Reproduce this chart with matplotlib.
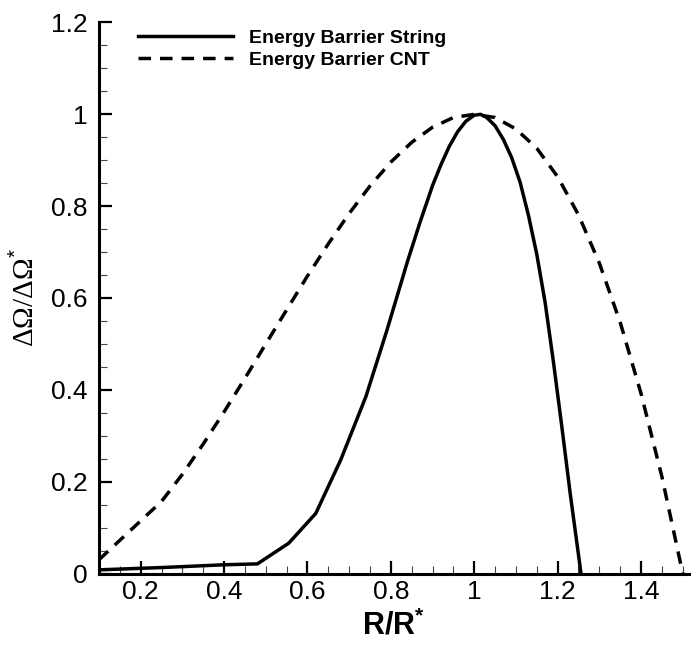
import matplotlib
matplotlib.use('Agg')
import matplotlib.pyplot as plt
from matplotlib.ticker import MultipleLocator

# ---- data ----
r_string = [0.10, 0.25, 0.40, 0.48, 0.555, 0.62, 0.68, 0.74, 0.79, 0.84, 0.87,
            0.90, 0.92, 0.94, 0.96, 0.98, 1.00, 1.015, 1.03, 1.05, 1.07, 1.09,
            1.11, 1.13, 1.15, 1.17, 1.19, 1.21, 1.23, 1.256]
e_string = [0.008, 0.013, 0.019, 0.021, 0.066, 0.131, 0.248, 0.385, 0.528, 0.680,
            0.765, 0.845, 0.890, 0.930, 0.962, 0.985, 0.998, 1.000, 0.993, 0.975,
            0.945, 0.905, 0.852, 0.780, 0.695, 0.590, 0.460, 0.320, 0.175, 0.000]

r_cnt = [0.10, 0.25, 0.30, 0.35, 0.40, 0.45, 0.50, 0.55, 0.60, 0.65, 0.70, 0.75,
         0.80, 0.85, 0.90, 0.95, 1.00, 1.05, 1.10, 1.15, 1.20, 1.25, 1.30, 1.35,
         1.40, 1.45, 1.50]
e_cnt = [0.030, 0.157, 0.216, 0.282, 0.352, 0.425, 0.500, 0.574, 0.648, 0.718,
         0.784, 0.844, 0.896, 0.939, 0.972, 0.993, 1.000, 0.993, 0.968, 0.926,
         0.864, 0.781, 0.676, 0.547, 0.392, 0.211, 0.000]

labels = ["Energy Barrier String", "Energy Barrier CNT"]
xticks = [0.2, 0.4, 0.6, 0.8, 1.0, 1.2, 1.4]
xticklabels = ["0.2", "0.4", "0.6", "0.8", "1", "1.2", "1.4"]
yticks = [0, 0.2, 0.4, 0.6, 0.8, 1.0, 1.2]
yticklabels = ["0", "0.2", "0.4", "0.6", "0.8", "1", "1.2"]

plt.rcParams['font.family'] = ['Liberation Sans', 'DejaVu Sans']
plt.rcParams['mathtext.fontset'] = 'custom'
plt.rcParams['mathtext.rm'] = 'Liberation Sans'
plt.rcParams['mathtext.bf'] = 'Liberation Sans:bold'

fig = plt.figure(figsize=(6.98, 6.46), dpi=100)
ax = fig.add_axes([0.1418, 0.1122, 0.8453, 0.853])

lw = 2.5
ax.plot(r_string, e_string, color='black', lw=lw, solid_joinstyle='round',
        label=labels[0])
ax.plot(r_cnt, e_cnt, color='black', lw=lw, linestyle=(0, (3.6, 2.6)),
        dash_capstyle='butt', label=labels[1])

ax.set_xlim(0.1, 1.515)
ax.set_ylim(0, 1.2)

ax.set_xticks(xticks)
ax.set_xticklabels(xticklabels)
ax.set_yticks(yticks)
ax.set_yticklabels(yticklabels)
ax.xaxis.set_minor_locator(MultipleLocator(0.05))
ax.yaxis.set_minor_locator(MultipleLocator(0.05))

ax.tick_params(which='major', direction='in', length=9.5, width=1.6,
               labelsize=19, color='black')
ax.tick_params(which='minor', direction='in', length=5.8, width=0.8,
               color='#444444')
ax.tick_params(axis='x', which='major', pad=5)
ax.tick_params(axis='y', which='major', pad=8)
ax.tick_params(top=False, right=False, which='both')

for s in ['top', 'right']:
    ax.spines[s].set_visible(False)
for s in ['left', 'bottom']:
    ax.spines[s].set_linewidth(2.2)

ax.set_xlabel(r"R/R$^{\mathbf{*}}$", fontsize=22, fontweight='bold', labelpad=4)
ax.set_ylabel("ΔΩ/ΔΩ$^{*}$", fontsize=21, family=['Liberation Serif', 'DejaVu Serif'],
              labelpad=8)

leg = ax.legend(loc='upper left', bbox_to_anchor=(0.066, 0.987), frameon=False,
                borderaxespad=0, borderpad=0, handlelength=4.9,
                handletextpad=0.8, labelspacing=0.2,
                prop={'size': 14, 'weight': 'bold'})

fig.savefig('out.png', dpi=100)
